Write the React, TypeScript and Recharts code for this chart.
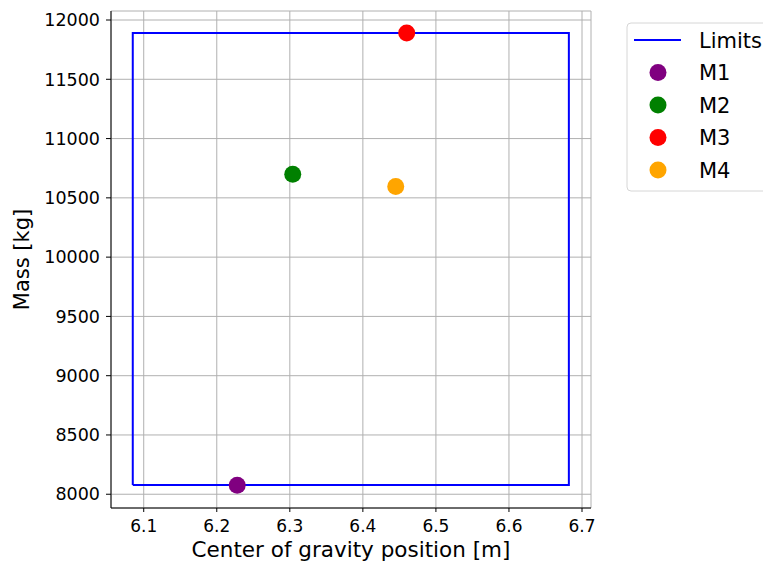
import React from 'react';
import { ScatterChart, Scatter, XAxis, YAxis, CartesianGrid, Label } from 'recharts';

const xTicks = [6.1, 6.2, 6.3, 6.4, 6.5, 6.6, 6.7];
const yTicks = [8000, 8500, 9000, 9500, 10000, 10500, 11000, 11500, 12000];

// envelope corners (cg position / mass)
const limitCg = [6.085, 6.682];
const limitMass = [8078, 11890];

const caseNames = ['M1', 'M2', 'M3', 'M4'];
const caseCg = [6.228, 6.304, 6.46, 6.445];
const caseMass = [8075, 10700, 11890, 10595];
const caseColors = ['#800080', '#008000', '#ff0000', '#ffa500'];

const limitsData = [
  { x: limitCg[0], y: limitMass[0] },
  { x: limitCg[0], y: limitMass[1] },
  { x: limitCg[1], y: limitMass[1] },
  { x: limitCg[1], y: limitMass[0] },
  { x: limitCg[0], y: limitMass[0] },
];

const FONT = '"DejaVu Sans", sans-serif';
const xDomain = [6.0552, 6.7123];
const yDomain = [7884, 12076];

const Dot = (color: string) => (props: any) => (
  <circle cx={props.cx} cy={props.cy} r={8.5} fill={color} />
);

function LegendBox() {
  const rows = ['Limits', ...caseNames];
  return (
    <svg
      width={140}
      height={200}
      style={{ position: 'absolute', left: 623, top: 18, fontFamily: FONT }}
    >
      <rect x={4} y={5} width={150} height={168} rx={4} fill="#fff" stroke="#d6d6d6" strokeWidth={1} />
      {rows.map((name, i) => {
        const cy = 22 + i * 32.5;
        return (
          <g key={name}>
            {i === 0 ? (
              <line x1={11} x2={58} y1={cy} y2={cy} stroke="#0000ff" strokeWidth={2} />
            ) : (
              <circle cx={35} cy={cy} r={8.5} fill={caseColors[i - 1]} />
            )}
            <text x={76} y={cy} dy="0.36em" fontSize={21} fill="#000">
              {name}
            </text>
          </g>
        );
      })}
    </svg>
  );
}

export default function App() {
  return (
    <div style={{ position: 'absolute', left: 0, top: 0, width: 763, height: 562, overflow: 'hidden', background: '#fff' }}>
      <ScatterChart width={763} height={562} margin={{ top: 11, right: 172, bottom: 0, left: 0 }}>
        <CartesianGrid stroke="#b0b0b0" strokeWidth={1} />
        <XAxis
          type="number"
          dataKey="x"
          domain={xDomain}
          ticks={xTicks}
          allowDataOverflow
          height={54}
          tickSize={4}
          tickMargin={8}
          tickLine={{ stroke: '#000' }}
          axisLine={{ stroke: '#000' }}
          tick={{ fill: '#000', fontSize: 17, fontFamily: FONT }}
          tickFormatter={(v: number) => v.toFixed(1)}
        >
          <Label
            value="Center of gravity position [m]"
            position="insideBottom"
            offset={5}
            style={{ fill: '#000', fontSize: 21.5, fontFamily: FONT }}
          />
        </XAxis>
        <YAxis
          type="number"
          dataKey="y"
          domain={yDomain}
          ticks={yTicks}
          allowDataOverflow
          width={111}
          tickSize={5}
          tickMargin={6}
          tickLine={{ stroke: '#000' }}
          axisLine={{ stroke: '#000' }}
          tick={{ fill: '#000', fontSize: 17.5, fontFamily: FONT }}
        >
          <Label
            value="Mass [kg]"
            angle={-90}
            position="insideLeft"
            offset={0}
            dx={22}
            style={{ fill: '#000', fontSize: 21, fontFamily: FONT, textAnchor: 'middle' }}
          />
        </YAxis>
        <XAxis xAxisId="top" orientation="top" type="number" domain={xDomain} height={0} tick={false} tickLine={false} axisLine={{ stroke: '#000' }} />
        <YAxis yAxisId="right" orientation="right" type="number" domain={yDomain} width={0} tick={false} tickLine={false} axisLine={{ stroke: '#000' }} />
        <Scatter
          name="Limits"
          data={limitsData}
          line={{ stroke: '#0000ff', strokeWidth: 2 }}
          lineType="joint"
          shape={() => null}
          isAnimationActive={false}
        />
        {caseNames.map((name, i) => (
          <Scatter
            key={name}
            name={name}
            data={[{ x: caseCg[i], y: caseMass[i] }]}
            fill={caseColors[i]}
            shape={Dot(caseColors[i])}
            isAnimationActive={false}
          />
        ))}
      </ScatterChart>
      <LegendBox />
    </div>
  );
}
